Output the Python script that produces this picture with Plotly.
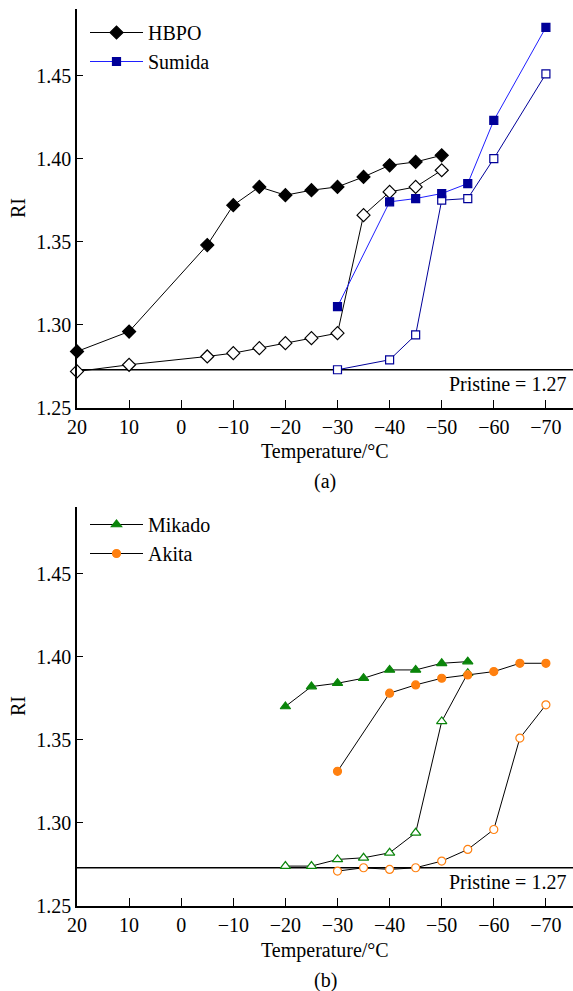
import plotly.graph_objects as go

# ---------- data ----------
hbpo_T_cool = [20, 10, -5, -10, -15, -20, -25, -30, -35, -40, -45, -50]
hbpo_RI_cool = [1.284, 1.296, 1.348, 1.372, 1.383, 1.378, 1.381, 1.383, 1.389, 1.396, 1.398, 1.402]
hbpo_T_warm = [20, 10, -5, -10, -15, -20, -25, -30, -35, -40, -45, -50]
hbpo_RI_warm = [1.272, 1.276, 1.281, 1.283, 1.286, 1.289, 1.292, 1.295, 1.366, 1.380, 1.383, 1.393]

sumida_T = [-30, -40, -45, -50, -55, -60, -70]
sumida_RI_cool = [1.311, 1.374, 1.376, 1.379, 1.385, 1.423, 1.479]
sumida_RI_warm = [1.273, 1.279, 1.294, 1.375, 1.376, 1.400, 1.451]

mikado_T = [-20, -25, -30, -35, -40, -45, -50, -55]
mikado_RI_cool = [1.370, 1.382, 1.384, 1.387, 1.392, 1.392, 1.396, 1.397]
mikado_RI_warm = [1.274, 1.274, 1.278, 1.279, 1.282, 1.294, 1.361, 1.390]

akita_T_cool = [-30, -40, -45, -50, -55, -60, -65, -70]
akita_RI_cool = [1.331, 1.378, 1.383, 1.387, 1.389, 1.391, 1.396, 1.396]
akita_T_warm = [-30, -35, -40, -45, -50, -55, -60, -65, -70]
akita_RI_warm = [1.271, 1.273, 1.272, 1.273, 1.277, 1.284, 1.296, 1.351, 1.371]

pristine = 1.273
x_ticks = [20, 10, 0, -10, -20, -30, -40, -50, -60, -70]
x_ticktext = ["20", "10", "0", "\u221210", "\u221220", "\u221230", "\u221240", "\u221250", "\u221260", "\u221270"]
y_ticks = [1.25, 1.30, 1.35, 1.40, 1.45]
y_ticktext = ["1.25", "1.30", "1.35", "1.40", "1.45"]

# ---------- style ----------
FONT = "Liberation Serif, Times New Roman, serif"
FS = 20
NAVY = "#000099"
BLUE = "#1f1fff"
GREEN = "#0a850a"
ORANGE = "#ff8010"

W, H = 573, 991
x_dom = [77 / W, 1.0]
top_dom = [1 - 408 / H, 1 - 9 / H]
bot_dom = [1 - 906 / H, 1 - 507 / H]

fig = go.Figure()

def add(x, y, name, line_color, marker, size, fill, edge, xa, ya, legend, lg, lw=1):
    fig.add_trace(go.Scatter(
        x=x, y=y, mode="lines+markers", name=name, showlegend=legend,
        legend=lg, xaxis=xa, yaxis=ya, cliponaxis=False,
        line=dict(color=line_color, width=lw),
        marker=dict(symbol=marker, size=size, color=fill,
                    line=dict(color=edge, width=1.2)),
    ))

# top panel
add(hbpo_T_warm, hbpo_RI_warm, "HBPO warm", "black", "diamond", 10, "white", "black", "x", "y", False, "legend")
add(sumida_T, sumida_RI_warm, "Sumida warm", NAVY, "square", 8, "white", NAVY, "x", "y", False, "legend")
add(hbpo_T_cool, hbpo_RI_cool, "HBPO", "black", "diamond", 10, "black", "black", "x", "y", True, "legend")
add(sumida_T, sumida_RI_cool, "Sumida", BLUE, "square", 8, NAVY, NAVY, "x", "y", True, "legend")

# bottom panel
add(mikado_T, mikado_RI_warm, "Mikado warm", "black", "triangle-up", 9, "white", GREEN, "x2", "y2", False, "legend2")
add(akita_T_warm, akita_RI_warm, "Akita warm", "black", "circle", 8, "white", ORANGE, "x2", "y2", False, "legend2")
add(mikado_T, mikado_RI_cool, "Mikado", "black", "triangle-up", 9, GREEN, GREEN, "x2", "y2", True, "legend2")
add(akita_T_cool, akita_RI_cool, "Akita", "black", "circle", 8, ORANGE, ORANGE, "x2", "y2", True, "legend2")

xcommon = dict(range=[20, -75.2], tickvals=x_ticks, ticktext=x_ticktext,
               ticks="inside", ticklen=8, tickwidth=1, tickcolor="black",
               showline=True, linecolor="black", linewidth=1.5,
               showgrid=False, zeroline=False, domain=x_dom, automargin=False,
               tickfont=dict(family=FONT, size=FS, color="black"))
ycommon = dict(range=[1.25, 1.49], tickvals=y_ticks, ticktext=y_ticktext,
               ticks="inside", ticklen=6, tickwidth=1, tickcolor="black",
               showline=True, linecolor="black", linewidth=1.5,
               showgrid=False, zeroline=False, automargin=False,
               tickfont=dict(family=FONT, size=FS, color="black"))

fig.update_layout(
    width=W, height=H,
    margin=dict(l=0, r=0, t=0, b=0, autoexpand=False),
    paper_bgcolor="white", plot_bgcolor="white",
    font=dict(family=FONT, size=FS, color="black"),
    xaxis=dict(**xcommon, anchor="y"),
    yaxis=dict(**ycommon, domain=top_dom, anchor="x"),
    xaxis2=dict(**xcommon, anchor="y2"),
    yaxis2=dict(**ycommon, domain=bot_dom, anchor="x2"),
    legend=dict(x=85 / W, y=1 - 13 / H, xanchor="left", yanchor="top",
                bgcolor="rgba(0,0,0,0)", font=dict(family=FONT, size=FS),
                tracegroupgap=0, itemwidth=53),
    legend2=dict(x=85 / W, y=1 - 505 / H, xanchor="left", yanchor="top",
                 bgcolor="rgba(0,0,0,0)", font=dict(family=FONT, size=FS),
                 tracegroupgap=0, itemwidth=53),
    showlegend=True,
)

# pristine lines
for xa, ya in (("x", "y"), ("x2", "y2")):
    fig.add_shape(type="line", xref=f"{xa} domain", yref=ya, x0=0, x1=1,
                  y0=pristine, y1=pristine, line=dict(color="black", width=1.5),
                  layer="below")
    fig.add_annotation(xref=f"{xa} domain", yref=ya, x=0.99, y=pristine,
                       text="Pristine = 1.27", showarrow=False,
                       xanchor="right", yanchor="top", yshift=-1,
                       font=dict(family=FONT, size=FS, color="black"))

# axis titles and captions
for ycen, yt, yc, cap in ((208, 451, 481, "(a)"), (706, 950, 980, "(b)")):
    fig.add_annotation(xref="paper", yref="paper", x=18 / W, y=1 - ycen / H,
                       text="RI", textangle=-90, showarrow=False,
                       xanchor="center", yanchor="middle",
                       font=dict(family=FONT, size=FS, color="black"))
    fig.add_annotation(xref="paper", yref="paper", x=325 / W, y=1 - yt / H,
                       text="Temperature/\u00b0C", showarrow=False,
                       xanchor="center", yanchor="middle",
                       font=dict(family=FONT, size=FS, color="black"))
    fig.add_annotation(xref="paper", yref="paper", x=325 / W, y=1 - yc / H,
                       text=cap, showarrow=False,
                       xanchor="center", yanchor="middle",
                       font=dict(family=FONT, size=FS, color="black"))

fig.write_html(
    "out.html",
    config={"displayModeBar": False},
    post_script="document.body.style.margin='0px';document.body.style.overflow='hidden';",
)
